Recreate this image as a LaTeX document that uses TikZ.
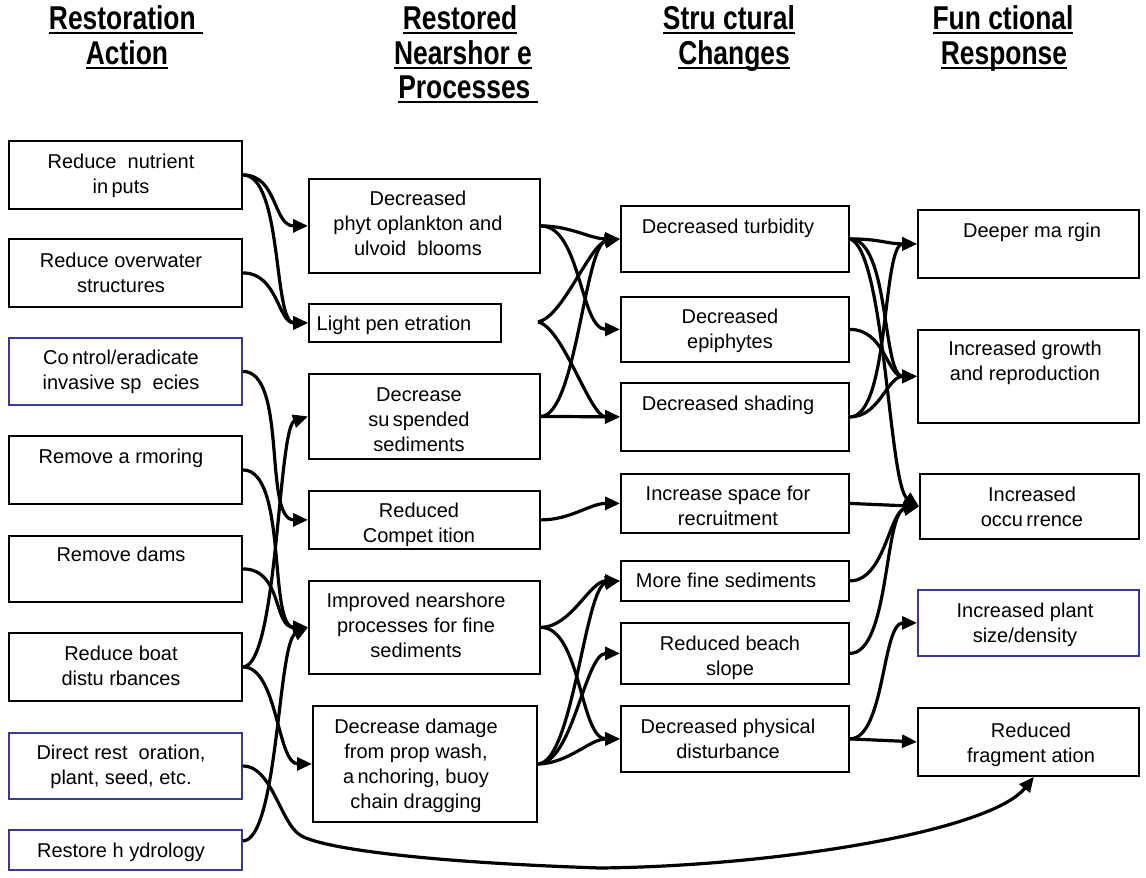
\documentclass[tikz,border=0pt]{standalone}
\usepackage{fontspec}
\setmainfont{Liberation Sans}
\newfontfamily\hdrfont{Liberation Sans}[FakeStretch=0.8]
\usetikzlibrary{arrows.meta}
\definecolor{boxblue}{RGB}{55,55,160}
\newcommand\hdrul[1]{\setbox0\hbox{#1}\rlap{\rule[-5pt]{\wd0}{2.2pt}}\box0}
\tikzset{
  box/.style={draw, line width=1.8pt, inner sep=0pt, anchor=north west},
  bbox/.style={box, draw=boxblue},
  txt/.style={font=\fontsize{20}{25}\selectfont, align=center, inner sep=0pt, anchor=north},
  hdr/.style={font=\hdrfont\bfseries\fontsize{33}{40}\selectfont, inner sep=0pt, anchor=base},
  conn/.style={draw, line width=3.2pt, -{Triangle[length=15pt,width=13pt]}}
}
\newcommand\fs{\rule{0pt}{15pt}}
\begin{document}
\begin{tikzpicture}[x=1pt,y=-1pt]
\useasboundingbox[fill=white] (0,0) rectangle (1146,878);
% headers
\node[hdr] (h1a) at (126,29) {\hdrul{Restoration\ }};
\node[hdr] (h1b) at (127,64) {\hdrul{Action}};
\node[hdr] (h2a) at (460,29) {\hdrul{Restored}};
\node[hdr] (h2b) at (463,64) {\hdrul{Nearshor e}};
\node[hdr] (h2c) at (468,98) {\hdrul{Processes\ }};
\node[hdr] (h3a) at (729,29) {\hdrul{Stru ctural}};
\node[hdr] (h3b) at (734,64) {\hdrul{Changes}};
\node[hdr] (h4a) at (1003,29) {\hdrul{Fun ctional}};
\node[hdr] (h4b) at (1004,64) {\hdrul{Response}};
% column 1 boxes
\node[box, minimum width=233pt, minimum height=68pt] (a1) at (8,140) {};
\node[box, minimum width=233pt, minimum height=68pt] (a2) at (8,238) {};
\node[bbox, minimum width=233pt, minimum height=67pt] (a3) at (8,337) {};
\node[box, minimum width=233pt, minimum height=68pt] (a4) at (8,435) {};
\node[box, minimum width=233pt, minimum height=66pt] (a5) at (8,535) {};
\node[box, minimum width=233pt, minimum height=68pt] (a6) at (8,632) {};
\node[bbox, minimum width=233pt, minimum height=66pt] (a7) at (8,732) {};
\node[bbox, minimum width=233pt, minimum height=40pt] (a8) at (8,829) {};
\node[txt] (a1t) at (121,153) {\fs Reduce~ nutrient\\in\,puts};
\node[txt] (a2t) at (121,252) {\fs Reduce overwater\\structures};
\node[txt] (a3t) at (121,349) {\fs Co\,ntrol/eradicate\\invasive sp~ ecies};
\node[txt] (a4t) at (121,448) {\fs Remove a rmoring};
\node[txt] (a5t) at (121,546) {\fs Remove dams};
\node[txt] (a6t) at (121,645) {\fs Reduce boat\\distu rbances};
\node[txt] (a7t) at (121,744) {\fs Direct rest~ oration,\\plant, seed, etc.};
\node[txt] (a8t) at (121,842) {\fs Restore h ydrology};
% column 2 boxes
\node[box, minimum width=231pt, minimum height=94pt] (b1) at (308,178) {};
\node[box, minimum width=192pt, minimum height=38pt] (b2) at (308,303) {};
\node[box, minimum width=231pt, minimum height=85pt] (b3) at (308,373) {};
\node[box, minimum width=231pt, minimum height=58pt] (b4) at (308,490) {};
\node[box, minimum width=231pt, minimum height=93pt] (b5) at (308,580) {};
\node[box, minimum width=224pt, minimum height=116pt] (b6) at (312,705) {};
\node[txt] (b1t) at (418,190) {\fs Decreased\\phyt oplankton and\\ulvoid~ blooms};
\node[txt] (b2t) at (394,315) {\fs Light pen etration};
\node[txt] (b3t) at (419,386) {\fs Decrease\\su\,spended\\sediments};
\node[txt] (b4t) at (419,502) {\fs Reduced\\Compet ition};
\node[txt] (b5t) at (416,592) {\fs Improved nearshore\\processes for fine\\sediments};
\node[txt] (b6t) at (416,718) {\fs Decrease damage\\from prop wash,\\a\,nchoring, buoy\\chain dragging};
% column 3 boxes
\node[box, minimum width=228pt, minimum height=66pt] (c1) at (620,205) {};
\node[box, minimum width=228pt, minimum height=65pt] (c2) at (620,296) {};
\node[box, minimum width=228pt, minimum height=68pt] (c3) at (620,382) {};
\node[box, minimum width=228pt, minimum height=59pt] (c4) at (620,473) {};
\node[box, minimum width=228pt, minimum height=40pt] (c5) at (620,560) {};
\node[box, minimum width=228pt, minimum height=61pt] (c6) at (620,622) {};
\node[box, minimum width=228pt, minimum height=66pt] (c7) at (620,705) {};
\node[txt] (c1t) at (728,218) {\fs Decreased turbidity};
\node[txt] (c2t) at (730,308) {\fs Decreased\\epiphytes};
\node[txt] (c3t) at (728,395) {\fs Decreased shading};
\node[txt] (c4t) at (728,485) {\fs Increase space for\\recruitment};
\node[txt] (c5t) at (726,572) {\fs More fine sediments};
\node[txt] (c6t) at (730,635) {\fs Reduced beach\\slope};
\node[txt] (c7t) at (728,718) {\fs Decreased physical\\disturbance};
% column 4 boxes
\node[box, minimum width=221pt, minimum height=68pt] (d1) at (917,209) {};
\node[box, minimum width=221pt, minimum height=93pt] (d2) at (917,329) {};
\node[box, minimum width=219pt, minimum height=65pt] (d3) at (919,473) {};
\node[bbox, minimum width=221pt, minimum height=66pt] (d4) at (917,589) {};
\node[box, minimum width=221pt, minimum height=68pt] (d5) at (917,707) {};
\node[txt] (d1t) at (1032,222) {\fs Deeper ma rgin};
\node[txt] (d2t) at (1025,340) {\fs Increased growth\\and reproduction};
\node[txt] (d3t) at (1032,486) {\fs Increased\\occu\,rrence};
\node[txt] (d4t) at (1025,602) {\fs Increased plant\\size/density};
\node[txt] (d5t) at (1031,722) {\fs Reduced\\fragment ation};
% free points
\coordinate (lt) at (538,322);
\coordinate (w1) at (300,835);
\coordinate (w2) at (600,868);
% column 1 -> column 2
\draw[conn] (a1.east) .. controls +(35,0) and +(-35,0) .. (b1.west);
\draw[conn] (a1.east) .. controls +(40,0) and +(-35,0) .. (b2.west);
\draw[conn] (a2.east) .. controls +(35,0) and +(-30,0) .. (b2.west);
\draw[conn] (a3.east) .. controls +(45,0) and +(-45,0) .. (b4.west);
\draw[conn] (a4.east) .. controls +(45,0) and +(-40,0) .. (b5.west);
\draw[conn] (a5.east) .. controls +(40,0) and +(-35,0) .. (b5.west);
\draw[conn] (a6.east) .. controls +(35,0) and +(-30,10) .. (b3.west);
\draw[conn] (a6.east) .. controls +(35,0) and +(-35,0) .. (b6.west);
\draw[conn] ([yshift=9pt]a8.east) .. controls +(35,0) and +(-30,15) .. (b5.west);
\draw[conn] (a7.east) .. controls +(29,0) and +(-20,-13) .. (w1)
  .. controls +(20,13) and +(-180,-6) .. (w2)
  .. controls +(180,-2) and +(-43,54) .. ([xshift=5.5pt]d5.south);
% column 2 -> column 3
\draw[conn] (b1.east) .. controls +(30,0) and +(-30,0) .. (c1.west);
\draw[conn] (b1.east) .. controls +(40,0) and +(-40,0) .. (c2.west);
\draw[conn] (lt) .. controls +(25,-5) and +(-30,5) .. (c1.west);
\draw[conn] (lt) .. controls +(25,5) and +(-30,0) .. (c3.west);
\draw[conn] (b3.east) .. controls +(35,0) and +(-35,5) .. (c1.west);
\draw[conn] (b3.east) -- (c3.west);
\draw[conn] (b4.east) .. controls +(30,0) and +(-30,0) .. (c4.west);
\draw[conn] (b5.east) .. controls +(30,0) and +(-30,0) .. (c5.west);
\draw[conn] (b5.east) .. controls +(40,0) and +(-40,0) .. (c7.west);
\draw[conn] (b6.east) .. controls +(35,0) and +(-35,5) .. (c5.west);
\draw[conn] (b6.east) .. controls +(35,0) and +(-35,0) .. (c6.west);
\draw[conn] (b6.east) .. controls +(30,0) and +(-30,0) .. (c7.west);
% column 3 -> column 4
\draw[conn] (c1.east) .. controls +(30,0) and +(-30,0) .. (d1.west);
\draw[conn] (c1.east) .. controls +(40,0) and +(-35,0) .. (d2.west);
\draw[conn] (c1.east) .. controls +(35,10) and +(-30,-20) .. (d3.west);
\draw[conn] (c2.east) .. controls +(35,0) and +(-30,0) .. (d2.west);
\draw[conn] (c3.east) .. controls +(40,0) and +(-35,0) .. (d1.west);
\draw[conn] (c3.east) .. controls +(30,0) and +(-30,0) .. (d2.west);
\draw[conn] (c4.east) -- (d3.west);
\draw[conn] (c5.east) .. controls +(35,0) and +(-30,5) .. (d3.west);
\draw[conn] (c6.east) .. controls +(40,0) and +(-35,5) .. (d3.west);
\draw[conn] (c7.east) .. controls +(35,0) and +(-35,0) .. (d4.west);
\draw[conn] (c7.east) -- (d5.west);
\end{tikzpicture}
\end{document}
